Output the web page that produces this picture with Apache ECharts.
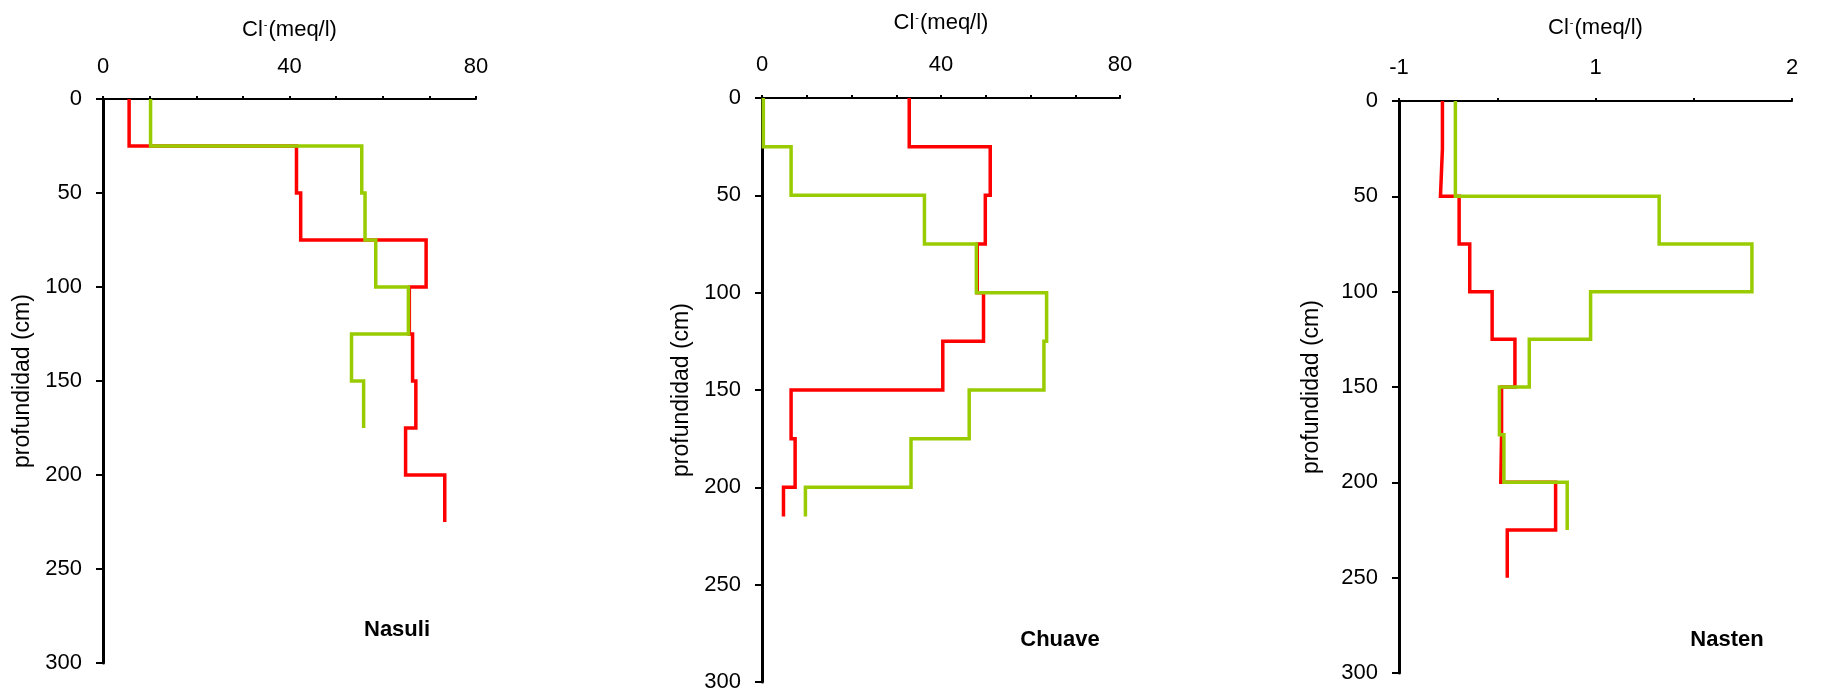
<!DOCTYPE html>
<html>
<head>
<meta charset="utf-8">
<script src="https://cdn.jsdelivr.net/npm/echarts@6/dist/echarts.min.js"></script>
<style>
  html, body { margin: 0; padding: 0; background: #ffffff; }
  #chart { width: 1830px; height: 693px; }
</style>
</head>
<body>
<div id="chart"></div>
<script>
// Chloride (Cl-) soil profiles: each value holds from one depth to the next (cm).

// Nasuli
const nasuliRedDepths   = [0, 25, 50, 75, 100, 125, 150, 175, 200, 225];
const nasuliRedValues   = [5.6, 41.5, 42.4, 69.3, 65.7, 66.4, 67.1, 64.9, 73.3];
const nasuliGreenDepths = [0, 25, 50, 75, 100, 125, 150, 175];
const nasuliGreenValues = [10.2, 55.5, 56.2, 58.5, 65.5, 53.3, 55.9];

// Chuave
const chuaveRedDepths   = [0, 25, 50, 75, 100, 125, 150, 175, 200, 215];
const chuaveRedValues   = [32.9, 51.0, 49.9, 48.1, 49.5, 40.4, 6.5, 7.4, 4.8];
const chuaveGreenDepths = [0, 25, 50, 75, 100, 125, 150, 175, 200, 215];
const chuaveGreenValues = [0.3, 6.5, 36.3, 47.9, 63.6, 63.0, 46.3, 33.3, 9.7];

// Nasten
const nastenRedDepths   = [0, 25, 50, 75, 100, 125, 150, 175, 200, 225, 250];
const nastenRedValues   = [0.221, 0.211, 0.306, 0.360, 0.474, 0.590, 0.522, 0.518, 0.797, 0.551];
const nastenGreenDepths = [0, 25, 50, 75, 100, 125, 150, 175, 200, 225];
const nastenGreenValues = [0.287, 0.287, 1.324, 1.796, 0.975, 0.663, 0.511, 0.534, 0.856];

// Tick labels of the concentration axes (one entry per tick)
const clTickLabels     = ['0', '', '', '', '40', '', '', '', '80'];
const nastenTickLabels = ['-1', '', '1', '', '2'];

const siteNames = ['Nasuli', 'Chuave', 'Nasten'];

const RED = '#ff0000';
const GREEN = '#99cc00';
const FONT = '"Liberation Sans", Arial, Helvetica, sans-serif';
const FS = 22;

// Turn layer values into a stepped depth profile: vertical runs joined by horizontal jumps
function stepProfile(depths, values) {
  const pts = [];
  values.forEach((v, i) => {
    pts.push([v, depths[i]]);
    pts.push([v, depths[i + 1]]);
  });
  return pts;
}

const panels = [
  { grid: { left: 103, top: 99, width: 373, height: 564 },
    xMin: 0, xMax: 80, xStep: 10, ticks: clTickLabels, nameGap: 58, labelMargin: 21, yNameGap: 69,
    red: stepProfile(nasuliRedDepths, nasuliRedValues),
    green: stepProfile(nasuliGreenDepths, nasuliGreenValues),
    site: { x: 397, y: 630 } },
  { grid: { left: 762, top: 98, width: 358, height: 584 },
    xMin: 0, xMax: 80, xStep: 10, ticks: clTickLabels, nameGap: 64, labelMargin: 22, yNameGap: 69,
    red: stepProfile(chuaveRedDepths, chuaveRedValues),
    green: stepProfile(chuaveGreenDepths, chuaveGreenValues),
    site: { x: 1060, y: 640 } },
  { grid: { left: 1399, top: 101, width: 393, height: 572 },
    xMin: 0, xMax: 2, xStep: 0.5, ticks: nastenTickLabels, nameGap: 62, labelMargin: 22, yNameGap: 76,
    red: stepProfile(nastenRedDepths, nastenRedValues),
    green: stepProfile(nastenGreenDepths, nastenGreenValues),
    site: { x: 1727, y: 640 } }
];

const option = {
  animation: false,
  backgroundColor: '#ffffff',
  textStyle: { fontFamily: FONT, color: '#000' },
  grid: panels.map(p => Object.assign({ containLabel: false }, p.grid)),
  xAxis: panels.map((p, i) => ({
    type: 'value',
    gridIndex: i,
    position: 'top',
    min: p.xMin,
    max: p.xMax,
    interval: p.xStep,
    name: 'Cl{sup|-}(meq/l)',
    nameLocation: 'middle',
    nameGap: p.nameGap,
    nameTextStyle: {
      fontFamily: FONT, fontSize: FS, color: '#000',
      rich: { sup: { fontFamily: FONT, fontSize: 11, verticalAlign: 'top', color: '#000', padding: [0, 1, 0, 1] } }
    },
    axisLine: { show: true, onZero: false, lineStyle: { color: '#000', width: 2 } },
    axisTick: { show: true, inside: false, length: 3, lineStyle: { color: '#000', width: 2 } },
    axisLabel: {
      show: true, margin: p.labelMargin, fontFamily: FONT, fontSize: FS, color: '#000',
      showMinLabel: true, showMaxLabel: true,
      formatter: v => p.ticks[Math.round((v - p.xMin) / p.xStep)] || ''
    },
    splitLine: { show: false }
  })),
  yAxis: panels.map((p, i) => ({
    type: 'value',
    gridIndex: i,
    inverse: true,
    min: 0,
    max: 300,
    interval: 50,
    name: 'profundidad (cm)',
    nameLocation: 'middle',
    nameRotate: 90,
    nameGap: p.yNameGap,
    nameTextStyle: { fontFamily: FONT, fontSize: 23, color: '#000' },
    axisLine: { show: true, onZero: false, lineStyle: { color: '#000', width: 3 } },
    axisTick: { show: true, inside: false, length: 7, lineStyle: { color: '#000', width: 2 } },
    axisLabel: { margin: 21, fontFamily: FONT, fontSize: FS, color: '#000' },
    splitLine: { show: false }
  })),
  series: panels.flatMap((p, i) => [
    { type: 'line', xAxisIndex: i, yAxisIndex: i, data: p.red, showSymbol: false, silent: true,
      lineStyle: { color: RED, width: 3.5, join: 'miter' }, z: 2 },
    { type: 'line', xAxisIndex: i, yAxisIndex: i, data: p.green, showSymbol: false, silent: true,
      lineStyle: { color: GREEN, width: 3.5, join: 'miter' }, z: 3 }
  ]),
  graphic: panels.map((p, i) => ({
    type: 'text',
    x: p.site.x,
    y: p.site.y,
    style: {
      text: siteNames[i],
      font: 'bold ' + FS + 'px ' + FONT,
      fill: '#000',
      textAlign: 'center',
      textVerticalAlign: 'middle'
    }
  }))
};

const chart = echarts.init(document.getElementById('chart'), null, { renderer: 'canvas' });
chart.setOption(option);
</script>
</body>
</html>
